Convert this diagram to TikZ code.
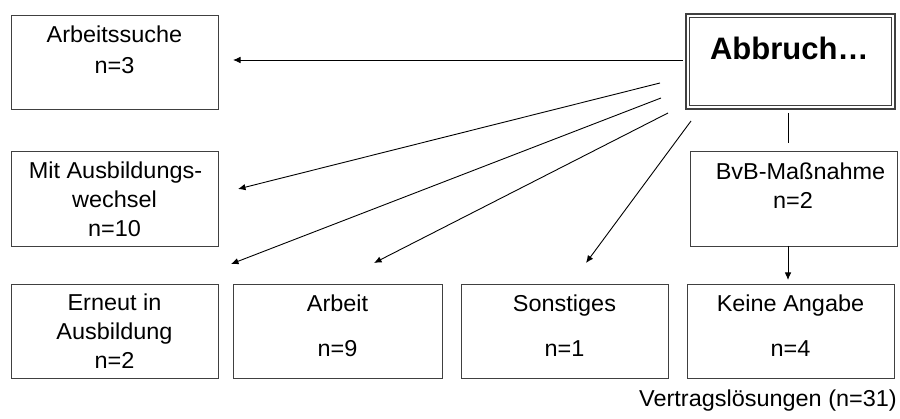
\documentclass[tikz,border=0pt]{standalone}
\usepackage{fontspec}
\setmainfont{Liberation Sans}[FakeStretch=1.02]
\newfontfamily\headfont{Liberation Sans}
\usetikzlibrary{arrows.meta}
\definecolor{boxgray}{gray}{0.25}
\begin{document}
\begin{tikzpicture}[x=1pt,y=-1pt]
\tikzset{
  box/.style={draw=boxgray, line width=0.9pt, minimum width=207pt, minimum height=94pt, inner sep=0pt},
  txt/.style={anchor=base, inner sep=0pt, font=\fontsize{23}{27}\selectfont},
  conn/.style={line width=0.9pt, -{Latex[length=7.5pt,width=6.5pt]}},
  plain/.style={line width=0.9pt}
}
\useasboundingbox (0,0) rectangle (900,419);

% head box: thick outer frame with a thin inner frame
\node[draw=boxgray, line width=2pt, minimum width=209pt, minimum height=95pt, inner sep=0pt] (head) at (790.5,61.5) {};
\node[draw=boxgray, line width=1pt, minimum width=201.5pt, minimum height=87.5pt, inner sep=0pt] (headin) at (790.7,61.7) {};
\node[anchor=base, inner sep=0pt, font=\headfont\bfseries\fontsize{31}{36}\selectfont] (headtxt) at (789.3,59.3) {Abbruch…};

% outcome boxes
\node[box] (suche)   at (114.5,62)   {};
\node[box, minimum height=95pt] (wechsel) at (114.5,198.5) {};
\node[box] (erneut)  at (114.5,331)  {};
\node[box, minimum width=209pt] (arbeit) at (337.5,331) {};
\node[box] (sonst)   at (564.5,331)  {};
\node[box] (keine)   at (790.5,331)  {};
\node[box, minimum height=95pt] (bvb) at (793.5,198.5) {};

% box texts
\node[txt] (t1a) at (114.5,42.7) {Arbeitssuche};
\node[txt] (t1b) at (114.5,74)   {n=3};
\node[txt] (t2a) at (115.5,179)  {Mit Ausbildungs-};
\node[txt] (t2b) at (114.5,208)  {wechsel};
\node[txt] (t2c) at (114.5,237)  {n=10};
\node[txt] (t3a) at (114.5,311)  {Erneut in};
\node[txt] (t3b) at (114.5,340)  {Ausbildung};
\node[txt] (t3c) at (114.5,369)  {n=2};
\node[txt] (t4a) at (337.5,311.5) {Arbeit};
\node[txt] (t4b) at (337.5,356.5) {n=9};
\node[txt] (t5a) at (564.5,311.5) {Sonstiges};
\node[txt] (t5b) at (564.5,356.5) {n=1};
\node[txt] (t6a) at (790.5,311.5) {Keine Angabe};
\node[txt] (t6b) at (790.5,356.5) {n=4};
\node[txt] (t7a) at (800.5,180)  {BvB-Maßnahme};
\node[txt] (t7b) at (793,209)    {n=2};
\node[txt, anchor=base east] (total) at (897,407) {Vertragslösungen (n=31)};

% connector end points
\coordinate (s0) at (683,60);   \coordinate (e0) at (233,60);
\coordinate (s1) at (660,83);   \coordinate (e1) at (238,189);
\coordinate (s2) at (661,98);   \coordinate (e2) at (231,264);
\coordinate (s3) at (668,113);  \coordinate (e3) at (374,263);
\coordinate (s4) at (691,121);  \coordinate (e4) at (586,263);
\coordinate (s5) at (788,113);  \coordinate (e5) at (788,143);
\coordinate (s6) at (788,246);  \coordinate (e6) at (788,280);

% connectors
\draw[conn] (s0) -- (e0);
\draw[conn] (s1) -- (e1);
\draw[conn] (s2) -- (e2);
\draw[conn] (s3) -- (e3);
\draw[conn] (s4) -- (e4);
\draw[plain] (s5) -- (e5);
\draw[conn] (s6) -- (e6);
\end{tikzpicture}
\end{document}
